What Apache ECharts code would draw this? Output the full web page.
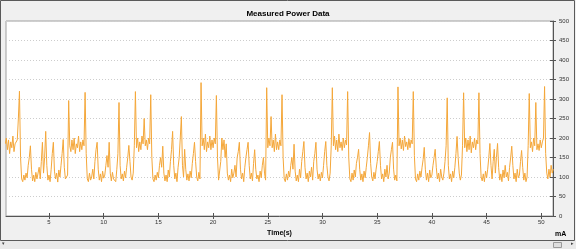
<!DOCTYPE html>
<html>
<head>
<meta charset="utf-8">
<script src="https://cdn.jsdelivr.net/npm/echarts@6/dist/echarts.min.js"></script>
<style>
html,body{margin:0;padding:0;background:#f0f0f0;}
#chart{width:576px;height:249px;}
</style>
</head>
<body>
<div id="chart"></div>
<script>
// ---- data (sampled every 0.1 s, starting at t = 1.0 s) ----
const timeStart = 1.0;
const timeStep = 0.1;
const currentMA = [
185,200,170,195,160,190,175,205,165,185,
180,195,250,320,150,95,88,105,92,110,
98,130,150,180,120,90,105,88,112,95,
100,125,95,140,189,110,150,217,130,92,
105,88,120,160,189,115,95,110,87,118,
100,130,160,196,125,95,90,105,296,180,
165,195,170,200,160,185,175,205,165,190,
170,195,180,317,160,95,88,110,92,100,
120,95,140,170,189,120,92,108,88,115,
97,105,130,155,125,189,110,90,112,95,
100,88,120,160,291,130,95,108,90,115,
98,125,150,181,140,100,92,110,180,319,
175,200,165,190,170,205,185,250,180,195,
170,200,185,311,150,95,88,105,92,112,
98,130,150,125,179,110,90,105,88,118,
100,140,170,217,130,95,110,88,125,150,
200,255,130,100,171,120,92,108,90,115,
98,135,160,189,140,100,90,112,95,342,
180,200,170,210,165,190,175,205,170,195,
175,200,185,309,150,92,88,140,200,170,
195,150,185,110,92,105,88,120,98,110,
130,100,150,165,189,120,95,110,88,125,
150,170,189,130,95,110,90,135,170,120,
95,105,88,115,98,130,150,110,92,329,
175,200,180,255,175,195,165,210,170,190,
170,195,180,311,150,95,88,108,92,115,
100,130,150,120,184,115,90,105,88,120,
98,140,165,191,125,95,110,88,115,100,
125,92,140,160,189,120,95,108,90,112,
98,130,165,191,130,100,90,110,180,329,
180,205,170,195,165,210,175,190,168,200,
175,195,182,319,150,95,88,110,92,118,
100,135,150,171,120,92,108,88,115,98,
125,150,180,214,135,100,90,112,95,120,
140,165,191,130,95,108,88,120,100,130,
95,110,150,170,189,120,92,105,90,331,
180,200,172,195,168,205,178,190,170,198,
175,195,185,319,155,95,88,108,92,115,
100,125,145,176,120,92,110,88,118,98,
105,130,150,171,125,95,110,88,120,100,
92,110,140,180,303,130,95,108,88,115,
98,125,160,204,150,110,92,105,180,316,
175,200,165,195,170,205,162,190,175,200,
170,195,185,316,160,100,90,108,88,115,
98,120,150,186,130,95,140,171,110,150,
186,125,92,108,88,118,98,130,100,112,
90,125,150,179,130,95,110,88,120,98,
105,140,168,125,92,110,88,100,180,314,
175,190,165,200,180,291,170,185,168,195,
175,190,200,332,160,110,95,120,100,130,
110,120
];
const xTickValues = [5,10,15,20,25,30,35,40,45,50];
const yTickInterval = 50;
const xRange = [1.07, 51.07];
const yRange = [0, 500];
const titleText = 'Measured Power Data';
const xAxisTitle = 'Time(s)';
const yUnitText = 'mA';

// ---- build ----
const seriesData = currentMA.map((v, i) => [+(timeStart + i * timeStep).toFixed(2), v]);
const FONT = 'Liberation Sans, Arial, sans-serif';
const chart = echarts.init(document.getElementById('chart'), null, {renderer: 'canvas'});

chart.setOption({
  animation: false,
  backgroundColor: '#f0f0f0',
  title: {
    text: titleText, left: 'center', top: 5,
    textStyle: {fontFamily: FONT, fontSize: 8, fontWeight: 'bold', color: '#000'}
  },
  grid: {
    left: 6, right: 23, top: 21, bottom: 33,
    show: true, backgroundColor: '#ffffff', borderColor: '#a0a0a0', borderWidth: 1
  },
  xAxis: [{
    type: 'value', min: xRange[0], max: xRange[1],
    name: xAxisTitle, nameLocation: 'middle', nameGap: 11,
    nameTextStyle: {fontFamily: FONT, fontSize: 7, fontWeight: 'bold', color: '#000'},
    axisLine: {show: true, lineStyle: {color: '#555', width: 1}},
    axisTick: {show: true, customValues: xTickValues, length: 3, lineStyle: {color: '#555'}},
    axisLabel: {show: true, customValues: xTickValues, fontFamily: FONT, fontSize: 6, color: '#333', margin: 3},
    splitLine: {show: false}
  }, {
    type: 'value', min: xRange[0], max: xRange[1], position: 'bottom',
    axisLine: {show: false},
    axisTick: {show: true, inside: true, customValues: xTickValues, length: 3, lineStyle: {color: '#555'}},
    axisLabel: {show: false},
    splitLine: {show: false}
  }],
  yAxis: [{
    type: 'value', position: 'right', min: yRange[0], max: yRange[1], interval: yTickInterval,
    axisLine: {show: true, lineStyle: {color: '#555', width: 1}},
    axisTick: {show: true, length: 3, lineStyle: {color: '#555'}},
    axisLabel: {fontFamily: FONT, fontSize: 6, color: '#333', margin: 6},
    splitLine: {show: true, lineStyle: {type: [1, 2], color: '#cdcdcd', width: 1}}
  }, {
    type: 'value', position: 'right', min: yRange[0], max: yRange[1], interval: yTickInterval,
    axisLine: {show: false},
    axisTick: {show: true, inside: true, length: 3, lineStyle: {color: '#555'}},
    axisLabel: {show: false},
    splitLine: {show: false}
  }],
  series: [{
    type: 'line', xAxisIndex: 0, yAxisIndex: 0,
    data: seriesData, showSymbol: false, symbol: 'none',
    lineStyle: {color: '#f4a73a', width: 1},
    z: 3
  }],
  graphic: [
    {type: 'rect', shape: {x: 0.5, y: 0.5, width: 574, height: 240}, style: {fill: 'none', stroke: '#5a5a5a', lineWidth: 1}, silent: true},
    {type: 'rect', shape: {x: 0, y: 241, width: 576, height: 8}, style: {fill: '#e9e9e9'}, silent: true},
    {type: 'rect', shape: {x: 553.5, y: 242.5, width: 8, height: 5}, style: {fill: '#dedede', stroke: '#9a9a9a', lineWidth: 1}, silent: true},
    {type: 'text', x: 571, y: 241, style: {text: '▸', fontSize: 5, fill: '#444', fontFamily: FONT}, silent: true},
    {type: 'text', x: 2, y: 241, style: {text: '▾', fontSize: 5, fill: '#444', fontFamily: FONT}, silent: true},
    {type: 'text', x: 555, y: 231, style: {text: yUnitText, fontSize: 7, fontWeight: 'bold', fill: '#000', fontFamily: FONT}, silent: true}
  ]
});
</script>
</body>
</html>
